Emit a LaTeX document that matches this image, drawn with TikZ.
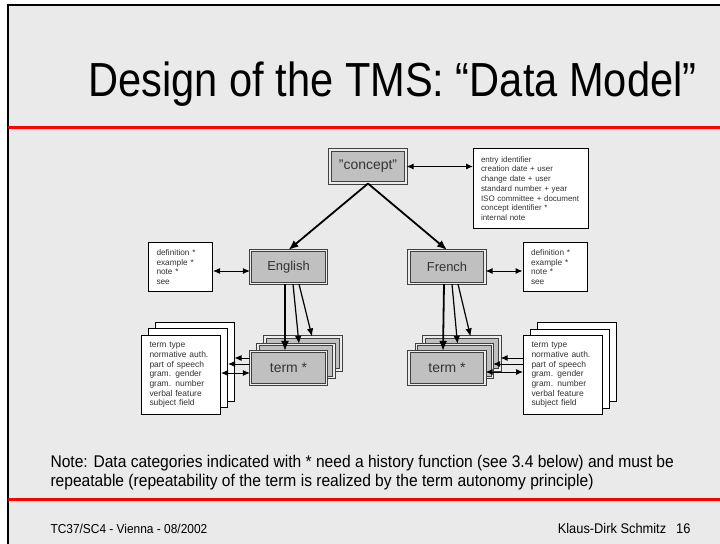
\documentclass[tikz,border=0pt]{standalone}
\usepackage{fontspec}
\setmainfont{Liberation Sans}
\newfontfamily\titlefont[FakeStretch=0.87]{Liberation Sans}
\newfontfamily\notefont[FakeStretch=0.92]{Liberation Sans}
\usepackage{tkz-euclide}
\usetikzlibrary{arrows.meta}
\definecolor{slidegray}{HTML}{EAEAEA}
\definecolor{boxgray}{HTML}{C0C0C0}
\definecolor{inkgray}{HTML}{333333}

\begin{document}
\begin{tikzpicture}[x=1bp,y=-1bp,
  catbox/.style={draw=black!75,double=gray!15,double distance=1.3bp,
    line width=1.1bp,fill=boxgray,minimum width=76bp,minimum height=33bp,
    inner sep=0pt,text=inkgray,font=\fontsize{13}{13}\selectfont},
  listbox/.style={draw=black,line width=1bp,fill=white,align=left,
    text=inkgray,inner sep=0pt},
  paperbox/.style={draw=black,line width=1bp,fill=white,
    minimum width=79bp,minimum height=79bp,inner sep=0pt},
  headlink/.style={line width=1.8bp,-{Latex[length=10bp,width=8bp]}},
  sublink/.style={line width=1.2bp,-{Latex[length=8bp,width=6.5bp]}},
  sidetip/.style={line width=1bp,-{Latex[length=7bp,width=6bp]}},
  sidelink/.style={line width=1bp,{Latex[length=7bp,width=6bp]}-{Latex[length=7bp,width=6bp]}}]
  \useasboundingbox (0,0) rectangle (720,544);
  % 页面背景与边框
  \tkzDefPoint(8,5){P1}
  \tkzDefPoint(720,5){P2}
  \tkzDefPoint(720,544){P3}
  \tkzDefPoint(8,544){P4}
  \tkzFillPolygon[fill=slidegray](P1,P2,P3,P4)
  \draw[line width=2bp] (P4) -- (P1) -- (P2);
  % 两条红线
  \tkzDefPoint(9,128){R1}
  \tkzDefPoint(720,128){R2}
  \tkzDefPoint(9,499){R3}
  \tkzDefPoint(720,499){R4}
  \tkzDrawSegments[red,line width=3bp](R1,R2 R3,R4)
  % 标题、注释与页脚的位置
  \tkzDefPoint(700,97){T}
  \tkzDefPoint(47,467){N1}
  \tkzDefPoint(47,486){N2}
  \tkzDefPoint(47,533){F1}
  \tkzDefPoint(694,533){F2}
  \node[anchor=base east,font=\titlefont\fontsize{48}{48}\selectfont] (title) at (T)
    {Design of the TMS: “Data Model”};
  \node[anchor=base west,font=\notefont\fontsize{17}{17}\selectfont] (note) at (N1)
    {Note: Data categories indicated with * need a history function (see 3.4 below) and must be};
  \node[anchor=base west,font=\notefont\fontsize{17}{17}\selectfont] (notetail) at (N2)
    {repeatable (repeatability of the term is realized by the term autonomy principle)};
  \node[anchor=base west,font=\notefont\fontsize{13}{13}\selectfont] (place) at (F1)
    {TC37/SC4 - Vienna - 08/2002};
  \node[anchor=base east,font=\notefont\fontsize{14}{14}\selectfont] (author) at (F2)
    {Klaus-Dirk Schmitz\hspace{10bp}16};
  % 定义各框的中心
  \tkzDefPoint(368,166.5){C}
  \tkzDefPoint(473,148){I}
  \tkzDefPoint(288.5,267){E}
  \tkzDefPoint(447,267){F}
  \tkzDefPoint(180.5,267){DL}
  \tkzDefPoint(555,267){DR}
  % 概念层
  \node[catbox,font=\fontsize{14}{14}\selectfont] (concept) at (C) {"concept"};
  \node[listbox,anchor=north west,minimum width=115bp,minimum height=80bp,
    text width=100bp,font=\fontsize{8}{9.8}\selectfont] (info) at (I)
    {entry identifier\\creation date + user\\change date + user\\standard number + year\\
     ISO committee + document\\concept identifier *\\internal note};
  % 语言层
  \node[catbox] (english) at (E) {English};
  \node[catbox] (french) at (F) {French};
  \node[listbox,minimum width=64bp,minimum height=49bp,text width=48bp,
    font=\fontsize{8.3}{9.9}\selectfont] (defl) at (DL)
    {definition *\\example *\\note *\\see};
  \node[listbox,minimum width=64bp,minimum height=49bp,text width=48bp,
    font=\fontsize{8.3}{9.9}\selectfont] (defr) at (DR)
    {definition *\\example *\\note *\\see};
  % 术语层（左）
  \tkzDefPoint(194.5,362){LP3}
  \tkzDefPoint(188,368){LP2}
  \tkzDefPoint(181,375){LP1}
  \tkzDefPoint(303,353.5){LT3}
  \tkzDefPoint(296,361){LT2}
  \tkzDefPoint(288.5,368){LT1}
  \node[paperbox] (paperlc) at (LP3) {};
  \node[paperbox] (paperlb) at (LP2) {};
  \node[paperbox,text width=63bp,align=left,text=inkgray,
    font=\fontsize{8.5}{9.7}\selectfont] (paperla) at (LP1)
    {term type\\normative auth.\\part of speech\\gram. gender\\gram. number\\verbal feature\\subject field};
  \node[catbox] (termlc) at (LT3) {};
  \node[catbox] (termlb) at (LT2) {};
  \node[catbox,font=\fontsize{14}{14}\selectfont] (termla) at (LT1) {term *};
  % 术语层（右）
  \tkzDefPoint(577,362){RP3}
  \tkzDefPoint(570,369){RP2}
  \tkzDefPoint(563,375){RP1}
  \tkzDefPoint(462,353.5){RT3}
  \tkzDefPoint(454.5,361){RT2}
  \tkzDefPoint(447,368){RT1}
  \node[paperbox] (paperrc) at (RP3) {};
  \node[paperbox] (paperrb) at (RP2) {};
  \node[paperbox,text width=63bp,align=left,text=inkgray,
    font=\fontsize{8.5}{9.7}\selectfont] (paperra) at (RP1)
    {term type\\normative auth.\\part of speech\\gram. gender\\gram. number\\verbal feature\\subject field};
  \node[catbox] (termrc) at (RT3) {};
  \node[catbox] (termrb) at (RT2) {};
  \node[catbox,font=\fontsize{14}{14}\selectfont] (termra) at (RT1) {term *};
  % 连线
  \draw[headlink] (concept.south) -- (english.north);
  \draw[headlink] (concept.south) -- (french.north);
  \draw[sidelink] (concept.east) -- (concept.east -| info.west);
  \draw[sidelink] ([yshift=-4bp]defl.east) -- ([yshift=-4bp]english.west);
  \draw[sidelink] ([yshift=-4bp]french.east) -- ([yshift=-4bp]defr.west);
  \draw[headlink] ([xshift=-3.5bp]english.south) -- ([xshift=-3.5bp]termla.north);
  \draw[sublink] ([xshift=4.5bp]english.south) -- ([xshift=3bp]termlb.north);
  \draw[sublink] ([xshift=10.5bp]english.south) -- ([xshift=9bp]termlc.north);
  \draw[headlink] ([xshift=-3bp]french.south) -- ([xshift=-4bp]termra.north);
  \draw[sublink] ([xshift=5bp]french.south) -- ([xshift=3bp]termrb.north);
  \draw[sublink] ([xshift=11bp]french.south) -- ([xshift=8.5bp]termrc.north);
  \draw[sidetip] ([yshift=10bp]termla.west) -- ([yshift=10bp]termla.west -| paperlc.east);
  \draw[sidetip] ([yshift=4bp]termla.west) -- ([yshift=4bp]termla.west -| paperlb.east);
  \draw[sidelink] ([yshift=-5bp]termla.west -| paperla.east) -- ([yshift=-5bp]termla.west);
  \draw[sidetip] ([yshift=10bp]termra.east -| paperra.west) -- ([yshift=10bp]termra.east -| termrc.east);
  \draw[sidetip] ([yshift=4bp]termra.east -| paperra.west) -- ([yshift=4bp]termra.east -| termrb.east);
  \draw[sidelink] ([yshift=-4bp]termra.east) -- ([yshift=-4bp]termra.east -| paperra.west);
\end{tikzpicture}
\end{document}
